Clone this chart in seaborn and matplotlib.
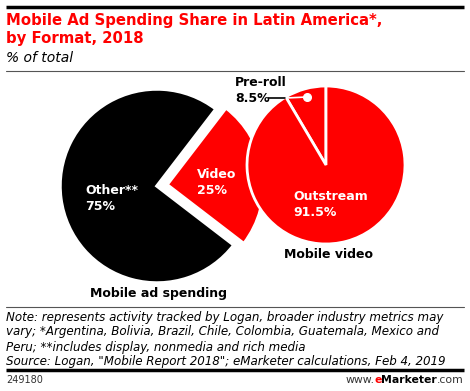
"""
Mobile ad spending share in Latin America, by format (2018) - two linked pies
"""

import matplotlib
matplotlib.use('Agg')
import matplotlib.pyplot as plt
import seaborn as sns

# --- data ---
spend_labels = ['Other**', 'Video']
spend_values = [75, 25]
video_labels = ['Pre-roll', 'Outstream']
video_values = [8.5, 91.5]

RED = '#ff0000'
BLACK = '#000000'
W, H = 470, 391


def py(y):
    """pixel-from-top -> data y"""
    return H - y


sns.set_theme(style='white')
plt.rcParams['font.family'] = ['DejaVu Sans']

fig = plt.figure(figsize=(W / 100, H / 100), dpi=100)
ax = fig.add_axes([0, 0, 1, 1])

# left pie (mobile ad spending)
ax.pie(spend_values, colors=[BLACK, RED], startangle=52.5, counterclock=True,
       center=(157, py(186)), radius=97, explode=[0, 10],
       wedgeprops={'edgecolor': 'white', 'linewidth': 2.5})

# right pie (mobile video) drawn over the exploded video wedge
ax.pie(video_values, colors=[RED, RED], startangle=90, counterclock=True,
       center=(326, py(165)), radius=79,
       wedgeprops={'edgecolor': 'white', 'linewidth': 2})

ax.set_xlim(0, W)
ax.set_ylim(0, H)
ax.set_aspect('equal')
ax.axis('off')

# slice labels
lab = dict(fontsize=9, fontweight='bold', va='center', ha='left', linespacing=1.3)
ax.text(85, py(198), f'{spend_labels[0]}\n{spend_values[0]}%', color='white', **lab)
ax.text(197, py(182), f'{spend_labels[1]}\n{spend_values[1]}%', color='white', **lab)
ax.text(293, py(204), f'{video_labels[1]}\n{video_values[1]}%', color='white', **lab)
ax.text(235, py(90), f'{video_labels[0]}\n{video_values[0]}%', color=BLACK, **lab)

# pre-roll leader line
ax.plot([268, 286], [py(98), py(98)], color=BLACK, lw=1.2, solid_capstyle='butt')
ax.plot([286, 307], [py(98), py(97)], color='white', lw=1.2)
ax.plot([307], [py(97)], 'o', color='white', ms=5.5)

ax.text(159, py(294), 'Mobile ad spending', fontsize=9, fontweight='bold',
        ha='center', va='center', color=BLACK)
ax.text(328, py(255), 'Mobile video', fontsize=9, fontweight='bold',
        ha='center', va='center', color=BLACK)

# header
ax.plot([6, 464], [py(7), py(7)], color=BLACK, lw=2.5, solid_capstyle='butt')
ax.text(6, py(21), 'Mobile Ad Spending Share in Latin America*,', fontsize=10.7,
        fontweight='bold', color=RED, va='center')
ax.text(6, py(39), 'by Format, 2018', fontsize=10.7, fontweight='bold', color=RED, va='center')
ax.text(6, py(58), '% of total', fontsize=10, style='italic', color=BLACK, va='center')
ax.plot([6, 464], [py(70.5), py(70.5)], color='#555555', lw=0.8)

# footer
ax.plot([6, 464], [py(306.5), py(306.5)], color='#555555', lw=0.8)
notes = [
    'Note: represents activity tracked by Logan, broader industry metrics may',
    'vary; *Argentina, Bolivia, Brazil, Chile, Colombia, Guatemala, Mexico and',
    'Peru; **includes display, nonmedia and rich media',
    'Source: Logan, "Mobile Report 2018"; eMarketer calculations, Feb 4, 2019',
]
for i, line in enumerate(notes):
    ax.text(6, py(317 + i * 15), line, fontsize=8.6, style='italic', color=BLACK, va='center')
ax.plot([6, 464], [py(369.5), py(369.5)], color=BLACK, lw=2.5, solid_capstyle='butt')
ax.text(6, py(380), '249180', fontsize=7, color='#333333', va='center')

# www.eMarketer.com, built right to left
t4 = ax.text(464, py(385), '.com', fontsize=7.8, color='#333333', ha='right', va='bottom')
t3 = ax.annotate('Marketer', xy=(0, 0), xycoords=t4, fontsize=7.8, fontweight='bold',
                 color=BLACK, ha='right', va='bottom')
t2 = ax.annotate('e', xy=(0, 0), xycoords=t3, fontsize=7.8, fontweight='bold',
                 color=RED, ha='right', va='bottom')
ax.annotate('www.', xy=(0, 0), xycoords=t2, fontsize=7.8, color='#333333',
            ha='right', va='bottom')

fig.savefig('out.png', dpi=100)
plt.close(fig)
